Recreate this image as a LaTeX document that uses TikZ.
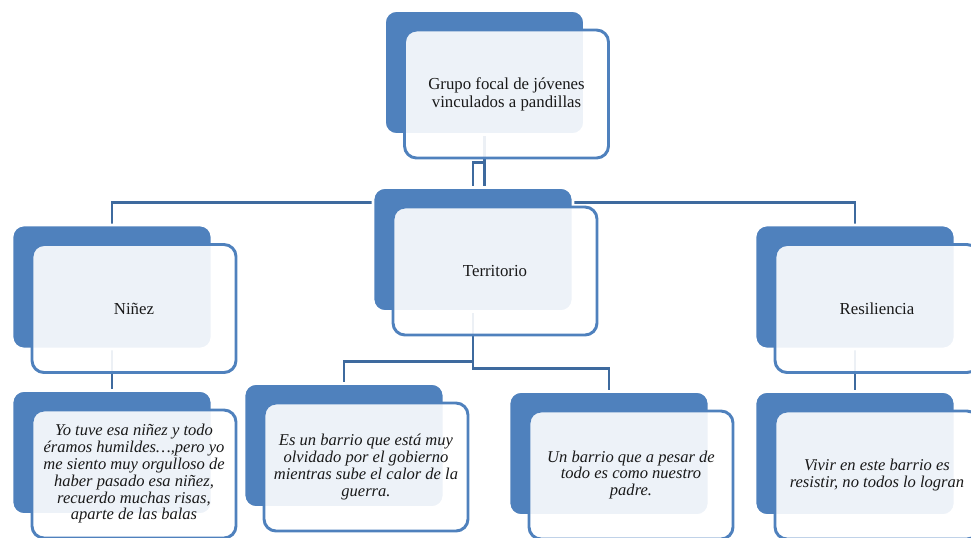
\documentclass[tikz,border=0pt]{standalone}
\usepackage{fontspec}
\setmainfont{Liberation Serif}
\usetikzlibrary{backgrounds}
\definecolor{smblue}{RGB}{79,129,189}
\definecolor{smline}{RGB}{62,106,158}
\tikzset{
  back/.style={draw=white, line width=2pt, fill=smblue, rounded corners=9pt,
    minimum width=150pt, minimum height=93pt},
  front/.style={draw=smblue, line width=2.2pt, fill=white, fill opacity=0.9,
    text opacity=1, text=black!90, rounded corners=9pt, minimum width=153pt,
    minimum height=96pt, align=center, font=\fontsize{12.6}{13.5}\selectfont},
  quote/.style={front, font=\fontsize{12.4}{12.6}\selectfont\itshape},
  conn/.style={draw=smline, line width=2.2pt},
}

\begin{document}
\begin{tikzpicture}[x=0.75pt, y=-0.75pt]
  \useasboundingbox (0,0) rectangle (971,537);

  \node[back] (grupoB) at (484.5,72.5) {};
  \node[front] (grupo) at ([shift={(22,21.5)}]grupoB.center) {Grupo focal de jóvenes\\vinculados a pandillas};

  \node[back] (ninezB) at (112,287) {};
  \node[front] (ninez) at ([shift={(22,21.5)}]ninezB.center) {Niñez};
  \node[back] (terrB) at (473,249.5) {};
  \node[front] (terr) at ([shift={(22,21.5)}]terrB.center) {Territorio};
  \node[back] (resilB) at (855,287) {};
  \node[front] (resil) at ([shift={(22,21.5)}]resilB.center) {Resiliencia};

  \node[back] (ninezQB) at (112,452.5) {};
  \node[quote] (ninezQ) at ([shift={(22,21.5)}]ninezQB.center) {Yo tuve esa niñez y todo\\éramos humildes…,pero yo\\me siento muy orgulloso de\\haber pasado esa niñez,\\recuerdo muchas risas,\\aparte de las balas};
  \node[back] (barrioB) at (344,445.5) {};
  \node[quote] (barrio) at ([shift={(22,21.5)}]barrioB.center) {Es un barrio que está muy\\olvidado por el gobierno\\mientras sube el calor de la\\guerra.};
  \node[back] (padreB) at (609,453.5) {};
  \node[quote] (padre) at ([shift={(22,21.5)}]padreB.center) {Un barrio que a pesar de\\todo es como nuestro\\padre.};
  \node[back] (vivirB) at (855,453.5) {};
  \node[quote] (vivir) at ([shift={(22,21.5)}]vivirB.center) {Vivir en este barrio es\\resistir, no todos lo logran};

  \begin{pgfonlayer}{background}
    \draw[conn] (grupoB.south) -- ++(0,27) -| (terrB.north);
    \draw[conn] (grupoB.south) -- ++(0,67) -| (ninezB.north);
    \draw[conn] (grupoB.south) -- ++(0,67) -| (resilB.north);
    \draw[conn] (ninezB.south) -- (ninezQB.north);
    \draw[conn] (terrB.south) -- ++(0,49) -| (barrioB.north);
    \draw[conn] (terrB.south) -- ++(0,56) -| (padreB.north);
    \draw[conn] (resilB.south) -- (vivirB.north);
  \end{pgfonlayer}
\end{tikzpicture}
\end{document}
